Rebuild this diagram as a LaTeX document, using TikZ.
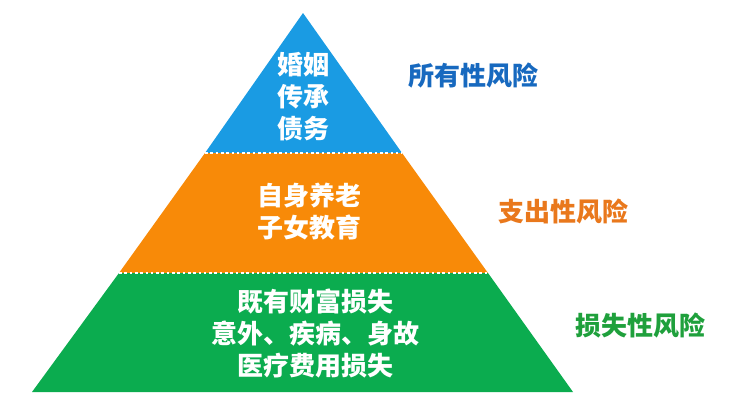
\documentclass[tikz,border=0pt]{standalone}
\usepackage{fontspec}
\newfontfamily\cjk{Noto Sans CJK SC}
\usepackage{tikz}
\usetikzlibrary{positioning}
\definecolor{topblue}{HTML}{1A9BE3}
\definecolor{midorange}{HTML}{F88A08}
\definecolor{lowgreen}{HTML}{0BAC4F}
\definecolor{labelblue}{HTML}{1769BF}
\definecolor{labelorange}{HTML}{E9781C}
\definecolor{labelgreen}{HTML}{1FA03C}

\begin{document}
\begin{tikzpicture}[
    x=1pt, y=-1pt,
    layertext/.style={
        text=white,
        align=center,
        font=\cjk\bfseries\fontsize{26}{32}\selectfont
    },
    risklabel/.style={
        font=\cjk\bfseries\fontsize{26}{32}\selectfont
    },
    divider/.style={
        white,
        line width=2.6pt,
        dash pattern=on 2.6pt off 2.7pt
    }
]
    \useasboundingbox (0,0) rectangle (736,410);

    % corners of the pyramid
    \coordinate (apex) at (303,13);
    \coordinate (cutAl) at (205,153);
    \coordinate (cutAr) at (402,153);
    \coordinate (cutBl) at (119,273);
    \coordinate (cutBr) at (488,273);
    \coordinate (baseL) at (32,392);
    \coordinate (baseR) at (573,392);

    \fill[topblue] (apex) -- (cutAr) -- (cutAl) -- cycle;
    \fill[midorange] (cutAl) -- (cutAr) -- (cutBr) -- (cutBl) -- cycle;
    \fill[lowgreen] (cutBl) -- (cutBr) -- (baseR) -- (baseL) -- cycle;

    \draw[divider] (cutAl) -- (cutAr);
    \draw[divider] (cutBl) -- (cutBr);

    \node[layertext] (topText) at (303,97) {婚姻\\传承\\债务};
    \node[layertext] (midText) at (309,212) {自身养老\\子女教育};
    \node[layertext] (lowText) at (315,333) {既有财富损失\\意外、疾病、身故\\医疗费用损失};

    \node[risklabel, labelblue] (topRisk) at (473,76) {所有性风险};
    \node[risklabel, labelorange] (midRisk) at (563,212) {支出性风险};
    \node[risklabel, labelgreen] (lowRisk) at (640,326) {损失性风险};
\end{tikzpicture}
\end{document}
